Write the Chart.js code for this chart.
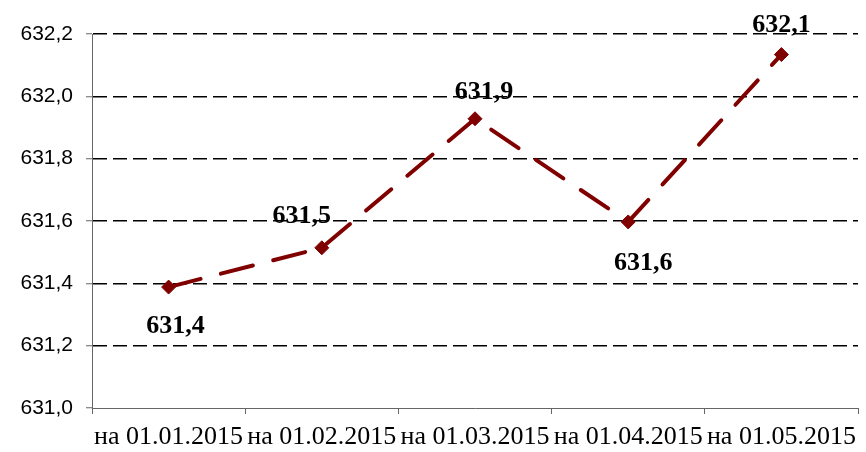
<!DOCTYPE html>
<html>
<head>
<meta charset="utf-8">
<script src="https://cdn.jsdelivr.net/npm/chart.js@4/dist/chart.umd.min.js"></script>
<style>
  html, body { margin: 0; padding: 0; background: #ffffff; }
  #c { display: block; }
</style>
</head>
<body>
<canvas id="c" width="866" height="452"></canvas>
<script>
// ---- data ----
const categories = ['на 01.01.2015', 'на 01.02.2015', 'на 01.03.2015', 'на 01.04.2015', 'на 01.05.2015'];
const values = [631.388, 631.514, 631.928, 631.597, 632.134];
const dataLabels = ['631,4', '631,5', '631,9', '631,6', '632,1'];
const yMin = 631.0;
const yMax = 632.2;
const yStep = 0.2;

// label placement relative to each point (dx, dy to text baseline)
const labelOffsets = [[7, 46], [-20, -25], [9, -20], [15, 48], [0, -23]];

const lineColor = '#800000';
const axisColor = '#666666';

const labelPlugin = {
  id: 'pointLabels',
  afterDatasetsDraw(chart) {
    const ctx = chart.ctx;
    const meta = chart.getDatasetMeta(0);
    ctx.save();
    ctx.font = 'bold 26px "Liberation Serif", "Times New Roman", serif';
    ctx.fillStyle = '#000000';
    ctx.textAlign = 'center';
    ctx.textBaseline = 'alphabetic';
    meta.data.forEach((pt, i) => {
      const off = labelOffsets[i];
      ctx.fillText(dataLabels[i], pt.x + off[0], pt.y + off[1]);
    });
    ctx.restore();
  }
};

new Chart(document.getElementById('c'), {
  type: 'line',
  data: {
    labels: categories,
    datasets: [{
      data: values,
      borderColor: lineColor,
      backgroundColor: lineColor,
      borderWidth: 4,
      borderDash: [33, 21],
      borderCapStyle: 'round',
      tension: 0,
      fill: false,
      pointStyle: 'rectRot',
      pointRadius: 7,
      pointBorderWidth: 1,
      pointBackgroundColor: lineColor,
      pointBorderColor: lineColor
    }]
  },
  options: {
    responsive: false,
    animation: false,
    devicePixelRatio: 1,
    layout: { padding: { top: 34, right: 2, left: 0, bottom: 0 } },
    plugins: {
      legend: { display: false },
      tooltip: { enabled: false }
    },
    scales: {
      x: {
        type: 'category',
        offset: true,
        grid: {
          display: true,
          offset: true,
          drawOnChartArea: false,
          drawTicks: true,
          tickLength: 6,
          color: axisColor,
          tickColor: axisColor
        },
        border: { display: true, color: axisColor, width: 1 },
        ticks: {
          color: '#000000',
          font: { family: '"Liberation Serif", "Times New Roman", serif', size: 26 },
          maxRotation: 0,
          minRotation: 0,
          autoSkip: false,
          padding: 8
        },
        afterFit(scale) { scale.height = 44; }
      },
      y: {
        min: yMin,
        max: yMax,
        grid: {
          color: (c) => (c.index === 0 ? 'rgba(0,0,0,0)' : '#000000'),
          lineWidth: 1.5,
          tickBorderDash: [],
          tickLength: 6,
          tickWidth: 1,
          tickColor: axisColor
        },
        border: { display: true, color: axisColor, width: 1, dash: [14, 6] },
        ticks: {
          stepSize: yStep,
          color: '#000000',
          padding: 13,
          font: { family: '"Liberation Sans", Arial, sans-serif', size: 21 },
          callback: (v) => Number(v).toFixed(1).replace('.', ',')
        },
        afterFit(scale) { scale.width = 92; }
      }
    }
  },
  plugins: [labelPlugin]
});
</script>
</body>
</html>
